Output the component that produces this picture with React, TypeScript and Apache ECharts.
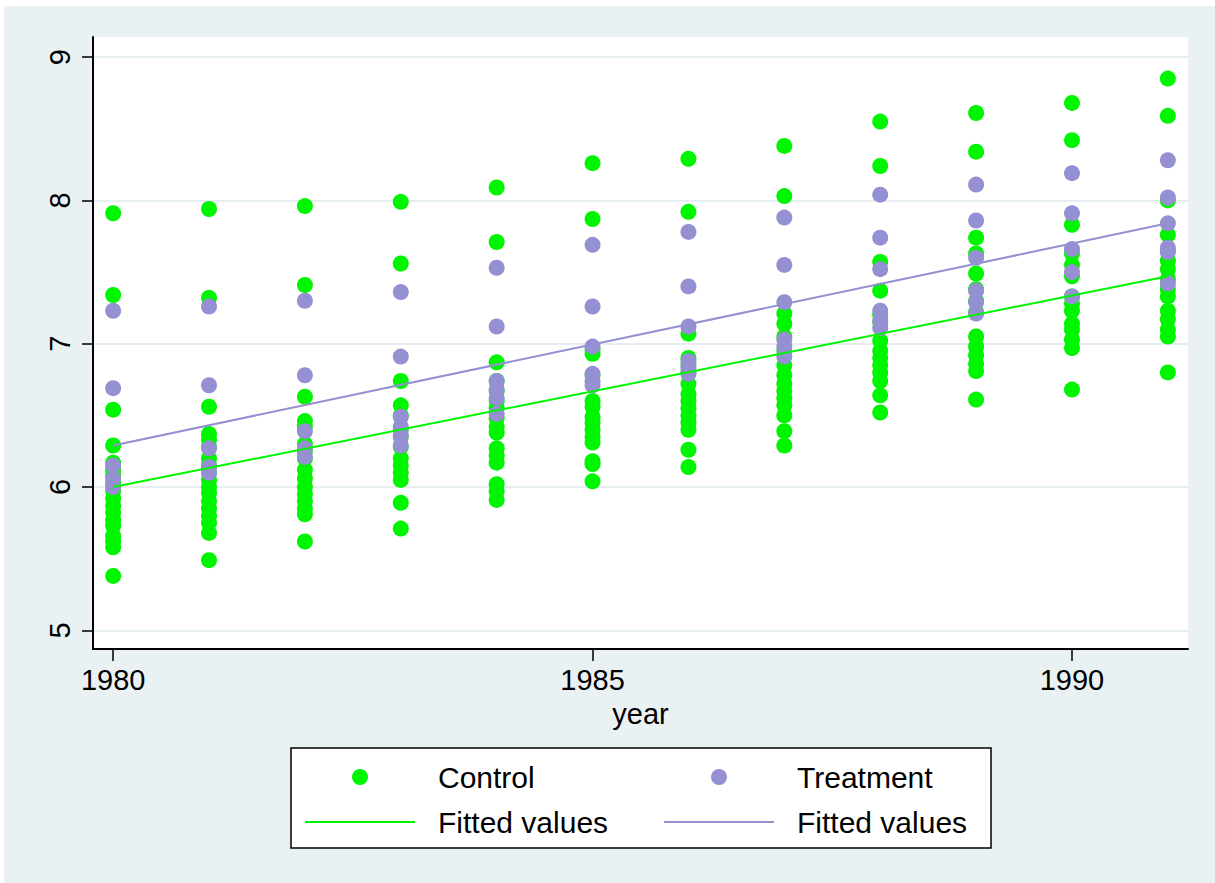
import React, { useEffect, useRef } from "react";
import * as echarts from "echarts";

const FONT = "'Liberation Sans', Arial, Helvetica, sans-serif";
const BG = "#e9f1f3";
const GREEN = "#00f500";
const PURPLE = "#9590d2";

const years = [1980, 1981, 1982, 1983, 1984, 1985, 1986, 1987, 1988, 1989, 1990, 1991];

const controlByYear = [
  [7.91, 7.34, 6.54, 6.29, 6.17, 6.12, 6.08, 6.03, 5.97, 5.92, 5.87, 5.82, 5.77, 5.73, 5.66, 5.62, 5.58, 5.38],
  [7.94, 7.32, 6.56, 6.37, 6.33, 6.28, 6.2, 6.15, 6.1, 6.05, 6.0, 5.96, 5.9, 5.85, 5.8, 5.75, 5.68, 5.49],
  [7.96, 7.41, 6.63, 6.46, 6.42, 6.3, 6.25, 6.2, 6.12, 6.06, 6.0, 5.95, 5.9, 5.85, 5.81, 5.62],
  [7.99, 7.56, 6.74, 6.57, 6.5, 6.4, 6.35, 6.28, 6.2, 6.15, 6.1, 6.05, 5.89, 5.71],
  [8.09, 7.71, 6.87, 6.74, 6.67, 6.6, 6.55, 6.48, 6.42, 6.38, 6.27, 6.22, 6.17, 6.02, 5.97, 5.91],
  [8.26, 7.87, 6.96, 6.93, 6.78, 6.6, 6.56, 6.49, 6.45, 6.4, 6.35, 6.31, 6.18, 6.16, 6.04],
  [8.29, 7.92, 7.07, 6.9, 6.85, 6.8, 6.72, 6.65, 6.6, 6.55, 6.5, 6.45, 6.4, 6.26, 6.14],
  [8.38, 8.03, 7.21, 7.14, 7.05, 6.95, 6.85, 6.78, 6.72, 6.67, 6.62, 6.57, 6.5, 6.39, 6.29],
  [8.55, 8.24, 7.57, 7.37, 7.2, 7.15, 7.02, 6.95, 6.9, 6.85, 6.8, 6.74, 6.64, 6.52],
  [8.61, 8.34, 7.74, 7.63, 7.49, 7.38, 7.3, 7.22, 7.05, 6.98, 6.92, 6.86, 6.81, 6.61],
  [8.68, 8.42, 7.83, 7.63, 7.55, 7.47, 7.33, 7.28, 7.23, 7.14, 7.1, 7.03, 6.97, 6.68],
  [8.85, 8.59, 8.0, 7.76, 7.65, 7.58, 7.52, 7.45, 7.38, 7.33, 7.23, 7.17, 7.1, 7.05, 6.8],
];

const treatmentByYear = [
  [7.23, 6.69, 6.15, 6.06, 6.0],
  [7.26, 6.71, 6.27, 6.14, 6.1],
  [7.3, 6.78, 6.39, 6.27, 6.21],
  [7.36, 6.91, 6.49, 6.42, 6.36, 6.29],
  [7.53, 7.12, 6.74, 6.68, 6.62, 6.51],
  [7.69, 7.26, 6.98, 6.79, 6.74, 6.71],
  [7.78, 7.4, 7.12, 6.88, 6.83, 6.79],
  [7.88, 7.55, 7.29, 7.03, 6.98, 6.91],
  [8.04, 7.74, 7.52, 7.23, 7.16, 7.11],
  [8.11, 7.86, 7.6, 7.37, 7.29, 7.21],
  [8.19, 7.91, 7.66, 7.5, 7.33],
  [8.28, 8.02, 7.84, 7.67, 7.64, 7.42],
];

const fitYears = [1980, 1991];
const fitControl = [6.0, 7.47];
const fitTreatment = [6.29, 7.84];

const xTicks = [1980, 1985, 1990];
const yTicks = [5, 6, 7, 8, 9];

export default function App() {
  const ref = useRef<HTMLDivElement>(null);

  useEffect(() => {
    if (!ref.current) return;
    const chart = echarts.init(ref.current, null, { renderer: "svg" });

    const controlPts = years.flatMap((yr, i) => controlByYear[i].map((v) => [yr, v]));
    const treatmentPts = years.flatMap((yr, i) => treatmentByYear[i].map((v) => [yr, v]));
    const fitC = fitYears.map((yr, i) => [yr, fitControl[i]]);
    const fitT = fitYears.map((yr, i) => [yr, fitTreatment[i]]);

    const legendText = {
      fontSize: 30,
      color: "#000",
      fontFamily: FONT,
      lineHeight: 30,
      padding: [0, 0, 0, 18],
    };
    const fmt = (n: string) => (n.indexOf("Fitted") === 0 ? "Fitted values" : n);
    const lineIcon = "path://M0,0h110v2h-110z";

    chart.setOption({
      animation: false,
      textStyle: { fontFamily: FONT },
      graphic: [
        {
          type: "rect",
          z: -100,
          silent: true,
          shape: { x: 4, y: 6, width: 1211, height: 877 },
          style: { fill: BG },
        },
        {
          type: "rect",
          z: 1,
          silent: true,
          shape: { x: 291, y: 748, width: 700, height: 100 },
          style: { fill: "#fff", stroke: "#000", lineWidth: 1.5 },
        },
      ],
      grid: {
        left: 93,
        right: 27,
        top: 37,
        bottom: 234,
        show: true,
        backgroundColor: "#fff",
        borderWidth: 0,
      },
      xAxis: {
        type: "value",
        min: 1979.79,
        max: 1991.21,
        name: "year",
        nameLocation: "middle",
        nameGap: 50,
        nameTextStyle: { fontSize: 29, color: "#000", fontFamily: FONT },
        axisLine: { show: true, onZero: false, lineStyle: { color: "#000", width: 2 } },
        axisTick: { show: true, customValues: xTicks, length: 12, lineStyle: { color: "#000", width: 1.5 } },
        axisLabel: {
          customValues: xTicks,
          fontSize: 29,
          color: "#000",
          margin: 16,
          fontFamily: FONT,
          formatter: (v: number) => String(v),
        },
        splitLine: { show: false },
      },
      yAxis: {
        type: "value",
        min: 4.87,
        max: 9.14,
        axisLine: { show: true, onZero: false, lineStyle: { color: "#000", width: 2 } },
        axisTick: { show: true, customValues: yTicks, length: 11, lineStyle: { color: "#000", width: 1.5 } },
        axisLabel: {
          customValues: yTicks,
          rotate: 90,
          fontSize: 29,
          color: "#000",
          margin: 19,
          fontFamily: FONT,
          formatter: (v: number) => String(v),
        },
        splitLine: { show: true, lineStyle: { color: "#e6eef1", width: 2 } },
      },
      legend: [
        {
          left: 300,
          top: 757,
          orient: "vertical",
          itemWidth: 110,
          itemHeight: 16,
          itemGap: 15,
          selectedMode: false,
          data: [
            { name: "Control", icon: "circle" },
            { name: "Fitted values (Control)", icon: lineIcon },
          ],
          formatter: fmt,
          textStyle: legendText,
        },
        {
          left: 659,
          top: 757,
          orient: "vertical",
          itemWidth: 110,
          itemHeight: 16,
          itemGap: 15,
          selectedMode: false,
          data: [
            { name: "Treatment", icon: "circle" },
            { name: "Fitted values (Treatment)", icon: lineIcon },
          ],
          formatter: fmt,
          textStyle: legendText,
        },
      ],
      series: [
        {
          name: "Control",
          type: "scatter",
          symbol: "circle",
          symbolSize: 16,
          itemStyle: { color: GREEN, opacity: 1 },
          data: controlPts,
        },
        {
          name: "Treatment",
          type: "scatter",
          symbol: "circle",
          symbolSize: 16,
          itemStyle: { color: PURPLE, opacity: 1 },
          data: treatmentPts,
        },
        {
          name: "Fitted values (Control)",
          type: "line",
          symbol: "none",
          showSymbol: false,
          lineStyle: { color: GREEN, width: 2 },
          itemStyle: { color: GREEN },
          data: fitC,
        },
        {
          name: "Fitted values (Treatment)",
          type: "line",
          symbol: "none",
          showSymbol: false,
          lineStyle: { color: PURPLE, width: 2 },
          itemStyle: { color: PURPLE },
          data: fitT,
        },
      ],
    });

    return () => chart.dispose();
  }, []);

  return (
    <div
      ref={ref}
      style={{ position: "absolute", left: 0, top: 0, width: 1215, height: 883 }}
    />
  );
}
